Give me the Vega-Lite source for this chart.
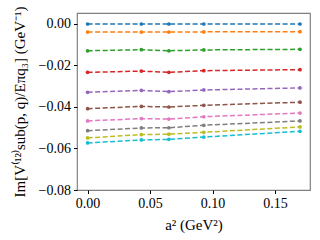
{
  "$schema": "https://vega.github.io/schema/vega-lite/v6.json",
  "width": 233,
  "height": 177,
  "autosize": {"type": "none"},
  "padding": {"left": 77, "top": 13, "right": 10, "bottom": 50},
  "background": "white",
  "config": {
    "view": {"stroke": "#808080", "strokeWidth": 1.2},
    "font": "Liberation Serif",
    "axis": {"grid": false, "domain": false, "tickColor": "#000", "tickSize": 3.5, "labelFont": "Liberation Serif", "titleFont": "Liberation Serif", "labelFontSize": 14, "titleFontSize": 15, "labelColor": "#000", "titleColor": "#000", "titleFontWeight": "normal"}
  },
  "data": {"values": [
    {"s": 0, "x": 0.0, "y": 0.0}, {"s": 0, "x": 0.043, "y": 0.0}, {"s": 0, "x": 0.065, "y": 0.0}, {"s": 0, "x": 0.093, "y": 0.0}, {"s": 0, "x": 0.17, "y": 0.0},
    {"s": 1, "x": 0.0, "y": -0.0039}, {"s": 1, "x": 0.043, "y": -0.0039}, {"s": 1, "x": 0.065, "y": -0.0039}, {"s": 1, "x": 0.093, "y": -0.0038}, {"s": 1, "x": 0.17, "y": -0.0037},
    {"s": 2, "x": 0.0, "y": -0.0129}, {"s": 2, "x": 0.043, "y": -0.0124}, {"s": 2, "x": 0.065, "y": -0.0129}, {"s": 2, "x": 0.093, "y": -0.0125}, {"s": 2, "x": 0.17, "y": -0.0122},
    {"s": 3, "x": 0.0, "y": -0.0233}, {"s": 3, "x": 0.043, "y": -0.0227}, {"s": 3, "x": 0.065, "y": -0.0233}, {"s": 3, "x": 0.093, "y": -0.0225}, {"s": 3, "x": 0.17, "y": -0.022},
    {"s": 4, "x": 0.0, "y": -0.0329}, {"s": 4, "x": 0.043, "y": -0.032}, {"s": 4, "x": 0.065, "y": -0.0326}, {"s": 4, "x": 0.093, "y": -0.0318}, {"s": 4, "x": 0.17, "y": -0.0308},
    {"s": 5, "x": 0.0, "y": -0.0408}, {"s": 5, "x": 0.043, "y": -0.0397}, {"s": 5, "x": 0.065, "y": -0.04}, {"s": 5, "x": 0.093, "y": -0.0392}, {"s": 5, "x": 0.17, "y": -0.0377},
    {"s": 6, "x": 0.0, "y": -0.0467}, {"s": 6, "x": 0.043, "y": -0.0456}, {"s": 6, "x": 0.065, "y": -0.0458}, {"s": 6, "x": 0.093, "y": -0.0447}, {"s": 6, "x": 0.17, "y": -0.0429},
    {"s": 7, "x": 0.0, "y": -0.0514}, {"s": 7, "x": 0.043, "y": -0.0501}, {"s": 7, "x": 0.065, "y": -0.05}, {"s": 7, "x": 0.093, "y": -0.0488}, {"s": 7, "x": 0.17, "y": -0.0467},
    {"s": 8, "x": 0.0, "y": -0.0549}, {"s": 8, "x": 0.043, "y": -0.0533}, {"s": 8, "x": 0.065, "y": -0.0531}, {"s": 8, "x": 0.093, "y": -0.0522}, {"s": 8, "x": 0.17, "y": -0.0496},
    {"s": 9, "x": 0.0, "y": -0.0573}, {"s": 9, "x": 0.043, "y": -0.0559}, {"s": 9, "x": 0.065, "y": -0.0556}, {"s": 9, "x": 0.093, "y": -0.0545}, {"s": 9, "x": 0.17, "y": -0.0517}
  ]},
  "encoding": {
    "x": {"field": "x", "type": "quantitative", "scale": {"domain": [-0.0085, 0.178], "nice": false, "zero": false},
          "axis": {"values": [0, 0.05, 0.1, 0.15], "format": ".2f", "title": "a² (GeV²)", "titlePadding": 7, "labelPadding": 3}},
    "y": {"field": "y", "type": "quantitative", "scale": {"domain": [-0.08, 0.0053], "nice": false, "zero": false},
          "axis": {"values": [0, -0.02, -0.04, -0.06, -0.08], "format": ".2f", "title": "Im[V⁽¹²⁾sub(p, q)/Eπq₃] (GeV⁻¹)", "titlePadding": 11, "labelPadding": 3}},
    "color": {"field": "s", "type": "nominal", "legend": null,
              "scale": {"domain": [0,1,2,3,4,5,6,7,8,9], "range": ["#1f77b4", "#ff7f0e", "#2ca02c", "#d62728", "#9467bd", "#8c564b", "#e377c2", "#7f7f7f", "#bcbd22", "#17becf"]}}
  },
  "layer": [
    {"mark": {"type": "line", "strokeDash": [5, 2.5], "strokeWidth": 1.5}},
    {"mark": {"type": "point", "filled": true, "size": 14, "opacity": 1}}
  ]
}
